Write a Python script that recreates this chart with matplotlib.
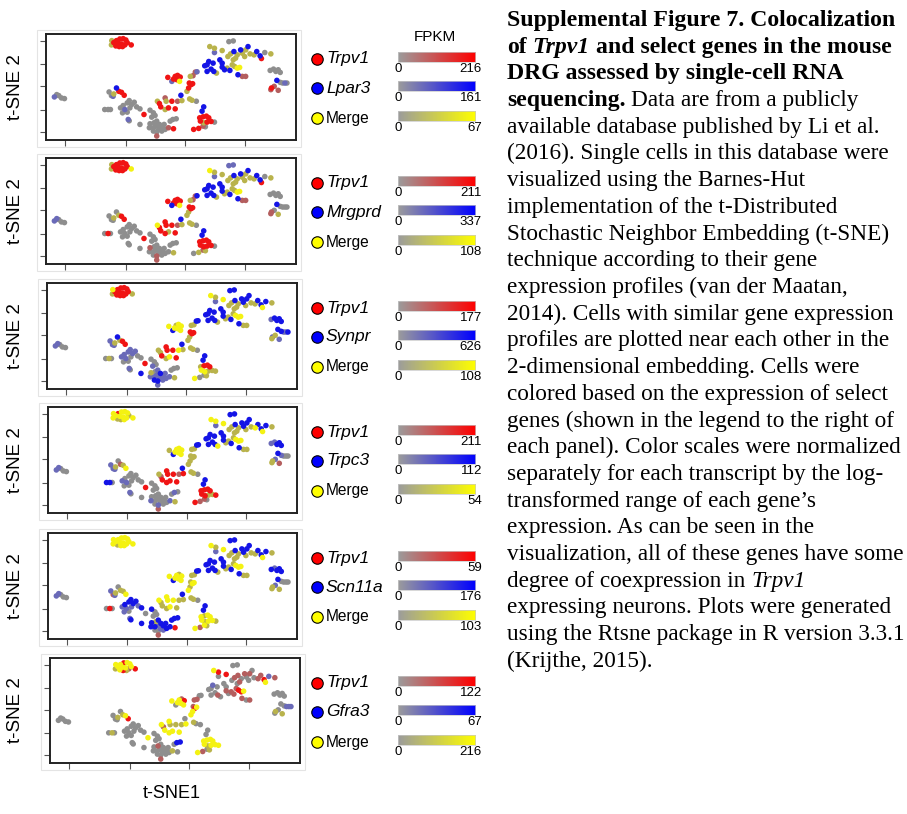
import matplotlib
matplotlib.use('Agg')
import matplotlib.pyplot as plt
import numpy as np
from matplotlib.colors import LinearSegmentedColormap

# ---------------- data (t-SNE embedding, shared by all panels) ----------------
x_A = [21.6, 21.5, 22.2, 23.0, 24.0, 25.0, 25.8, 23.5, 24.5, 25.5, 22.8, 23.8, 24.8, 27.4, 26.2]
y_A = [30.8, 29.5, 30.2, 30.8, 31.3, 31.4, 31.0, 30.0, 29.8, 29.5, 29.2, 29.0, 29.0, 29.5, 30.2]
x_B = [4.5, 5.2, 5.8, 6.6, 7.5]
y_B = [13.8, 14.5, 14.2, 13.5, 13.3]
x_C = [20.8, 21.5, 22.2, 23.0, 23.7, 24.5, 25.3, 22.0, 19.5, 20.5, 21.2, 24.2, 25.0, 25.5,
       26.2, 26.8, 27.5, 28.3, 27.0, 29.0, 30.0, 24.8, 26.2, 26.5, 26.8, 30.0, 31.2]
y_C = [15.3, 14.2, 14.7, 16.5, 15.5, 15.2, 14.3, 14.0, 10.0, 10.0, 10.0, 10.5, 11.2, 10.0,
       12.0, 12.7, 11.5, 12.2, 10.5, 10.8, 10.2, 9.0, 9.2, 7.0, 6.6, 5.5, 8.5]
x_D = [33.0, 34.0, 34.5, 33.5, 35.0, 34.2, 33.0, 32.8, 34.0, 34.8, 35.8, 36.5, 37.2, 35.6,
       34.0, 35.0, 36.5, 37.5, 38.5, 40.0, 35.0, 39.0, 39.8, 40.8]
y_D = [9.8, 9.0, 8.2, 7.7, 6.5, 6.0, 5.7, 4.5, 4.5, 5.0, 5.5, 4.8, 5.5, 4.0,
       3.5, 3.2, 3.5, 4.0, 4.5, 4.2, 2.0, 6.5, 7.0, 7.2]
x_E = [35.2, 35.8, 36.2, 37.5, 37.8, 38.5, 37.5, 39.5, 40.5, 41.2, 42.5, 42.2, 44.8, 45.5, 46.8]
y_E = [12.5, 11.8, 10.8, 13.5, 12.5, 10.5, 10.0, 12.5, 10.2, 12.5, 12.7, 14.3, 13.2, 12.8, 12.5]
x_F = [38.3, 39.5, 40.0, 40.5, 41.2, 42.0, 41.8, 41.0, 44.7, 45.2, 45.7, 44.5, 44.0, 45.0,
       45.8, 46.5, 47.0]
y_F = [19.7, 18.5, 19.2, 20.0, 20.3, 19.8, 18.5, 19.0, 18.0, 17.5, 17.8, 16.5, 15.5, 20.0,
       20.2, 21.3, 21.4]
x_G = [48.5, 49.0, 47.8, 48.8, 49.8, 50.5, 48.0, 49.0, 50.0, 51.2, 52.2, 48.8, 47.5, 46.0, 49.5]
y_G = [9.5, 10.8, 7.5, 7.8, 8.0, 7.5, 6.5, 6.0, 6.2, 6.4, 6.2, 5.0, 4.3, 4.0, 4.8]
x_H = [49.3, 50.0, 50.5, 51.8, 51.2, 50.0, 52.0, 52.8, 53.8, 54.5, 54.5, 55.2, 56.0, 56.8,
       57.5, 58.2, 59.0, 59.7, 59.2, 60.5, 61.5, 50.8, 52.2, 52.2, 54.5, 56.5, 57.8, 56.2,
       57.0, 58.0, 59.0, 60.0, 60.5, 61.5, 62.2, 61.2, 62.8, 64.0, 64.8, 65.8, 66.2, 67.2,
       69.0, 57.8, 58.5]
y_H = [23.2, 23.5, 24.5, 24.0, 22.2, 21.5, 21.5, 21.0, 25.0, 24.0, 22.8, 22.0, 22.5, 21.8,
       23.5, 23.0, 22.5, 22.7, 20.5, 20.0, 20.0, 29.0, 28.5, 27.2, 27.8, 30.5, 30.7, 26.0,
       26.8, 27.5, 26.5, 28.0, 27.0, 28.0, 29.0, 26.0, 26.8, 26.5, 27.5, 26.2, 25.4, 27.2,
       26.8, 25.0, 25.5]
x_I = [68.8, 69.8, 70.5, 71.2, 71.8, 70.8, 71.8, 72.5, 73.2, 73.8, 69.2, 70.0, 71.2, 69.0]
y_I = [21.8, 22.2, 21.5, 22.0, 21.2, 18.8, 18.2, 18.0, 18.0, 18.0, 16.5, 17.0, 15.8, 16.0]

# expression class of every cell per panel (clusters A..I, groups of five)
# R=Trpv1 high, D=Trpv1 low, B=gene high, P=gene low, Y=merge high, O=merge low, G=none
codes_A = ["OORRR RRRRR RRRRR", "OORRR RRRRR RRRYR", "YORRR RRRRR RRROR",
           "YYYRY YYYYY OOYYO", "YYYYY YYYYY OYYYY", "YOYYR YYYYD YRORY"]
codes_B = ["PGGGG", "PPGGG", "PPGGG", "PPGGG", "PPGGG", "GGGGG"]
codes_C = ["GGOBR RRPGG GGGPG GGGGG GGGPG GR", "GGOGO RRGGR GGGGG GGGGG GGGGG GR",
           "PPOBO RRPGO GPPPP PPPGG GGGPG BR", "PPOGD OYPBB GPGPG GGGGG GGGPG GR",
           "PDOGO OYPGR GPBPB BBBPP BPGPB BG", "GGOGO YRGGO GGGGG GGGGG GGGGG GY"]
codes_D = ["GGGGG GGGGG GGGGG GGGDR DGGG", "GGGGG GDGGG GGGGG DGGGO DGGG",
           "GGGPP GOPPP BPPPB BPPPO PGGG", "GGGGG GGPGG GGGGG PGGPO DGPG",
           "BGGGB OBBBP BBBPG GPBBR DBBB", "GGGGG DGGGG GGGGG GGGOG DGBB"]
codes_E = ["ORRDO RORRD OBOOG", "YRRRR ORRRD OBOOG", "OORRR YORRY OBOOG",
           "ODRRR RRRRD RBOOG", "YOOYY YOYOO OBOOG", "YDYYO YYOYO YGOGG"]
codes_F = ["RPRRR RYRRR RROOD DP", "RBRRR RYRRR ROOOD DB", "YBYOY YYYRR ROOOO BB",
           "OBYYY YYYOO OOOOO BB", "YBYYO YYYOY YOYOO BB", "YGYYD RYYDR YYYDD GG"]
codes_G = ["BBRRR RRORR GDRRG", "BBRRR RRRRR GDOGO", "BBORR RYYOO OGGYO",
           "BBRRR RRROO RDDRG", "BBYOY YYOYY OYDYO", "GGYYY YYOYY YGDYO"]
codes_H = ["BBBBB BBOBB BBOBO OYYBD DOOPO GGOOB OBOOB OOOBB RGOOO",
           "BBBBB BBOBB BOOBO OYYBD DYOPO PPOOB OBOOB OOOBB RGOOO",
           "BBBBB BBOBB BOOBO YYYBO OYOPY BBOOB OBBBB OOOBB YBOOO",
           "BBBBB BBYBB BOOBO YYYBO OYYPY BBOOB OBBBB OOYBB YBOOO",
           "BBBBB BBOBB BOOBO YYYBO OYOPY BBOOB OBBBB OOOBB YBOOO",
           "GGPGG GDGGG DGDDD RRYDG DYRGR GGGDD GDGDG GGDDR YPDGD"]
codes_I = ["GGGGG BGGPG RDDD", "GGGGG BGGGG DGOD", "PBBBB BBPPB POPO",
           "PPBBB BPGGG OPDO", "BPBBB BGGGG OPOO", "GGGGG GGPPP OGOG"]

genes = ["Lpar3", "Mrgprd", "Synpr", "Trpc3", "Scn11a", "Gfra3"]
trpv1_max = [216, 211, 177, 211, 59, 122]
gene_max = [161, 337, 626, 112, 176, 67]
merge_max = [67, 108, 108, 54, 103, 216]

# ---------------- styling ----------------
W, H = 907, 814
fig = plt.figure(figsize=(W / 100, H / 100), dpi=100)
fig.patch.set_facecolor('white')

SANS = ['Liberation Sans', 'DejaVu Sans']
SERIF = ['Liberation Serif', 'DejaVu Serif']

col = {'R': '#f01414', 'D': '#b45e5e', 'B': '#1414e6', 'P': '#6a6ab8',
       'Y': '#f4f212', 'O': '#b9b34c', 'G': '#8e8e8e'}
zord = {'G': 1, 'D': 2, 'P': 2, 'O': 2, 'R': 3, 'B': 3, 'Y': 3}

boxes = [(46, 34, 296, 140), (46, 158, 296, 264), (47, 283, 297, 389),
         (48, 407, 297, 513), (48, 533, 297, 639), (50, 658, 300, 763)]

xs = np.array(x_A + x_B + x_C + x_D + x_E + x_F + x_G + x_H + x_I)
ys = np.array(y_A + y_B + y_C + y_D + y_E + y_F + y_G + y_H + y_I)

overlay = fig.add_axes([0, 0, 1, 1])
overlay.set_xlim(0, W)
overlay.set_ylim(H, 0)
overlay.axis('off')
overlay.patch.set_visible(False)

def cmap_to(c):
    return LinearSegmentedColormap.from_list('g', ['#9c9c9c', c])

bar_maps = [cmap_to('#ff0000'), cmap_to('#0000ff'), cmap_to('#ffff00')]

for i, (l, t, r, b) in enumerate(boxes):
    overlay.add_patch(plt.Rectangle((l - 9, t - 4), (r - l) + 14, (b - t) + 11,
                                    fill=False, ec='#e4e4e4', lw=0.8, zorder=0))
    ax = fig.add_axes([l / W, 1 - b / H, (r - l) / W, (b - t) / H])
    code = "".join(c[i] for c in [codes_A, codes_B, codes_C, codes_D, codes_E,
                                  codes_F, codes_G, codes_H, codes_I]).replace(" ", "")
    code = np.array(list(code))
    for k in ['G', 'D', 'P', 'O', 'R', 'B', 'Y']:
        m = code == k
        ax.scatter(xs[m], ys[m], s=16, c=col[k], edgecolors='none', zorder=zord[k])
    ax.set_xlim(2.0, 76.5)
    ax.set_ylim(0.8, 32.8)
    ax.set_xticks([7.7, 25.7, 43.5, 61.3])
    ax.set_yticks([3.1, 10.0, 17.0, 23.8, 30.7])
    ax.set_xticklabels([])
    ax.set_yticklabels([])
    ax.tick_params(length=4, width=0.8, color='#555555', direction='out')
    for s in ax.spines.values():
        s.set_linewidth(1.4)
        s.set_color('#222222')
    overlay.text(15, (t + b) / 2, 't-SNE 2', rotation=90, ha='center', va='center',
                 fontsize=13.5, family=SANS)
    names = ['Trpv1', genes[i], 'Merge']
    lcols = ['#ff0000', '#0000ff', '#ffff00']
    maxes = [trpv1_max[i], gene_max[i], merge_max[i]]
    row_off = [25, 54, 84]
    for j in range(3):
        yy = t + row_off[j]
        overlay.scatter([316.5], [yy], s=68, c=lcols[j], edgecolors='black',
                        linewidths=0.8, zorder=5)
        if j < 2:
            overlay.text(326, yy, names[j], ha='left', va='center', fontsize=12.5,
                         style='italic', family=SANS)
        else:
            overlay.text(326, yy, names[j], ha='left', va='center', fontsize=11.2,
                         family=SANS)
        bt = t + row_off[j] - 7
        bax = fig.add_axes([398 / W, 1 - (bt + 10) / H, 77 / W, 10 / H])
        bax.imshow(np.linspace(0, 1, 256)[None, :], aspect='auto', cmap=bar_maps[j])
        bax.set_xticks([])
        bax.set_yticks([])
        for s in bax.spines.values():
            s.set_color('#c8c8c8')
            s.set_linewidth(0.5)
        overlay.text(398, bt + 17, '0', ha='center', va='center', fontsize=9.5, family=SANS)
        overlay.text(482, bt + 17, str(maxes[j]), ha='right', va='center', fontsize=9.5,
                     family=SANS)
    if i == 0:
        overlay.text(435, 37, 'FPKM', ha='center', va='center', fontsize=11, family=SANS)

overlay.text(172, 793, 't-SNE1', ha='center', va='center', fontsize=13, family=SANS)

# ---------------- caption ----------------
lines = [
    [("Supplemental Figure 7. Colocalization", 'b')],
    [("of ", 'b'), ("Trpv1", 'bi'), (" and select genes in the mouse", 'b')],
    [("DRG assessed by single-cell RNA", 'b')],
    [("sequencing.", 'b'), (" Data are from a publicly", 'r')],
    [("available database published by Li et al.", 'r')],
    [("(2016). Single cells in this database were", 'r')],
    [("visualized using the Barnes-Hut", 'r')],
    [("implementation of the t-Distributed", 'r')],
    [("Stochastic Neighbor Embedding (t-SNE)", 'r')],
    [("technique according to their gene", 'r')],
    [("expression profiles (van der Maatan,", 'r')],
    [("2014). Cells with similar gene expression", 'r')],
    [("profiles are plotted near each other in the", 'r')],
    [("2-dimensional embedding. Cells were", 'r')],
    [("colored based on the expression of select", 'r')],
    [("genes (shown in the legend to the right of", 'r')],
    [("each panel). Color scales were normalized", 'r')],
    [("separately for each transcript by the log-", 'r')],
    [("transformed range of each gene\u2019s", 'r')],
    [("expression. As can be seen in the", 'r')],
    [("visualization, all of these genes have some", 'r')],
    [("degree of coexpression in ", 'r'), ("Trpv1", 'i')],
    [("expressing neurons. Plots were generated", 'r')],
    [("using the Rtsne package in R version 3.3.1", 'r')],
    [("(Krijthe, 2015).", 'r')],
]

styles = {'b': dict(weight='bold'), 'bi': dict(weight='bold', style='italic'),
          'r': dict(), 'i': dict(style='italic')}

renderer = fig.canvas.get_renderer()

def measure(txt, st, fs):
    t = overlay.text(0, 0, txt, fontsize=fs, family=SERIF, **styles[st])
    w = t.get_window_extent(renderer).width
    t.remove()
    return w

FSB = 17.0 * 388.0 / measure(lines[0][0][0], 'b', 17.0)
FSR = 17.0 * 396.0 / measure(lines[20][0][0], 'r', 17.0)
fsz = {'b': FSB, 'bi': FSB, 'r': FSR, 'i': FSR}

space_w = {}
for st in styles:
    space_w[st] = measure("a a", st, fsz[st]) - measure("aa", st, fsz[st])

x0 = 507
for n, segs in enumerate(lines):
    yb = 26 + n * 26.7
    x = x0
    for txt, st in segs:
        lead = len(txt) - len(txt.lstrip(' '))
        trail = len(txt) - len(txt.rstrip(' '))
        core = txt.strip(' ')
        x += lead * space_w[st]
        t = overlay.text(x, yb, core, ha='left', va='baseline', fontsize=fsz[st],
                         family=SERIF, **styles[st])
        bb = t.get_window_extent(renderer)
        x = bb.x1 + trail * space_w[st]

fig.savefig('out.png', dpi=100, facecolor='white')
